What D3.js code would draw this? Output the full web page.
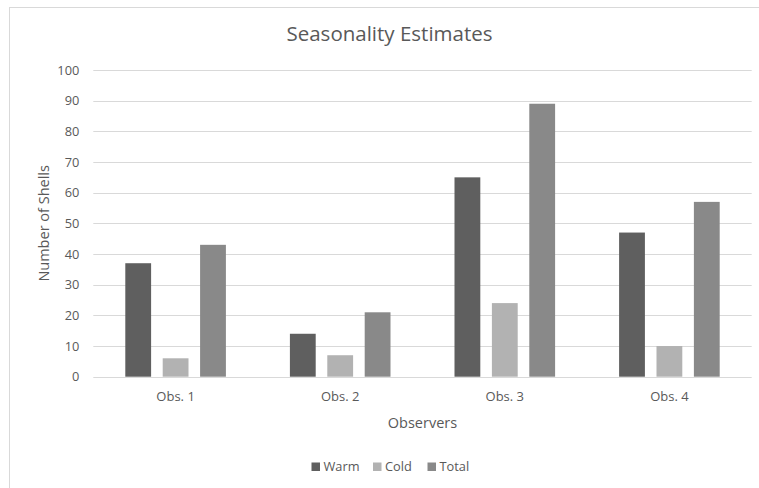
<!DOCTYPE html>
<html>
<head>
<meta charset="utf-8">
<script src="https://cdn.jsdelivr.net/npm/d3@7"></script>
<style>
  html, body { margin: 0; padding: 0; background: #fff; }
  svg { display: block; font-family: "Open Sans", "Noto Sans", sans-serif; }
</style>
</head>
<body>
<svg id="chart" width="759" height="488"></svg>
<script>
// Shell counts per observer, split by season
const observers = ["Obs. 1", "Obs. 2", "Obs. 3", "Obs. 4"];
const seriesNames = ["Warm", "Cold", "Total"];
const warm = [37, 14, 65, 47];
const cold = [6, 7, 24, 10];
const total = [43, 21, 89, 57];
const yTicks = [0, 10, 20, 30, 40, 50, 60, 70, 80, 90, 100];

const seriesValues = [warm, cold, total];
const colors = ["#5f5f5f", "#b2b2b2", "#898989"];
const textColor = "#595959";

const svg = d3.select("#chart");

// Chart area frame
svg.append("rect")
  .attr("x", 9.5).attr("y", 7.5)
  .attr("width", 770).attr("height", 500)
  .attr("fill", "#fff").attr("stroke", "#d9d9d9").attr("stroke-width", 1);

const plot = { left: 93.3, right: 751.7, top: 70, bottom: 376.7 };

const x0 = d3.scaleBand()
  .domain(observers)
  .range([plot.left, plot.right])
  .paddingInner(0)
  .paddingOuter(0);

// Inner scale for the three bars of each group
const groupPad = 32;
const x1 = d3.scaleBand()
  .domain(seriesNames)
  .range([groupPad, x0.bandwidth() - groupPad])
  .paddingInner(0.31)
  .paddingOuter(0);

const y = d3.scaleLinear()
  .domain([0, 100])
  .range([plot.bottom, plot.top]);

// Horizontal gridlines
svg.append("g")
  .selectAll("line")
  .data(yTicks)
  .join("line")
  .attr("x1", plot.left).attr("x2", plot.right)
  .attr("y1", d => Math.round(y(d)) + 0.5)
  .attr("y2", d => Math.round(y(d)) + 0.5)
  .attr("stroke", "#d9d9d9").attr("stroke-width", 1);

// Y axis labels
const yAxis = d3.axisLeft(y).tickValues(yTicks).tickSize(0).tickPadding(0);
const yAxisG = svg.append("g")
  .attr("transform", `translate(${plot.left - 14},0)`)
  .call(yAxis);
yAxisG.select(".domain").remove();
yAxisG.selectAll("text")
  .attr("fill", textColor)
  .style("font-size", "12.8px")
  .style("font-family", "\"Open Sans\", sans-serif");

// Bars
const groups = svg.append("g")
  .selectAll("g")
  .data(observers)
  .join("g")
  .attr("transform", d => `translate(${x0(d)},0)`);

groups.selectAll("rect")
  .data((d, i) => seriesNames.map((s, j) => ({ s, v: seriesValues[j][i], c: colors[j] })))
  .join("rect")
  .attr("x", d => x1(d.s))
  .attr("width", x1.bandwidth())
  .attr("y", d => y(d.v))
  .attr("height", d => y(0) - y(d.v))
  .attr("fill", d => d.c);

// X axis labels
const xAxis = d3.axisBottom(x0).tickSize(0).tickPadding(0);
const xAxisG = svg.append("g")
  .attr("transform", `translate(0,${plot.bottom + 15})`)
  .call(xAxis);
xAxisG.select(".domain").remove();
xAxisG.selectAll("text")
  .attr("fill", textColor)
  .style("font-size", "13px")
  .style("font-family", "\"Open Sans\", sans-serif");

// Titles
svg.append("text")
  .attr("x", 389.5).attr("y", 40.5)
  .attr("text-anchor", "middle")
  .attr("fill", textColor)
  .style("font-size", "20.5px")
  .text("Seasonality Estimates");

svg.append("text")
  .attr("x", (plot.left + plot.right) / 2).attr("y", 428)
  .attr("text-anchor", "middle")
  .attr("fill", textColor)
  .style("font-size", "14.5px")
  .text("Observers");

svg.append("text")
  .attr("transform", `translate(48.5,${(plot.top + plot.bottom) / 2}) rotate(-90)`)
  .attr("text-anchor", "middle")
  .attr("fill", textColor)
  .style("font-size", "14.5px")
  .text("Number of Shells");

// Legend
const legendX = [311.5, 373, 427.5];
const legend = svg.append("g")
  .selectAll("g")
  .data(seriesNames)
  .join("g")
  .attr("transform", (d, i) => `translate(${legendX[i]},462.5)`);
legend.append("rect")
  .attr("width", 8.5).attr("height", 8.5)
  .attr("fill", (d, i) => colors[i]);
legend.append("text")
  .attr("x", 12).attr("y", 8.8)
  .attr("fill", textColor)
  .style("font-size", "12.8px")
  .text(d => d);
</script>
</body>
</html>
